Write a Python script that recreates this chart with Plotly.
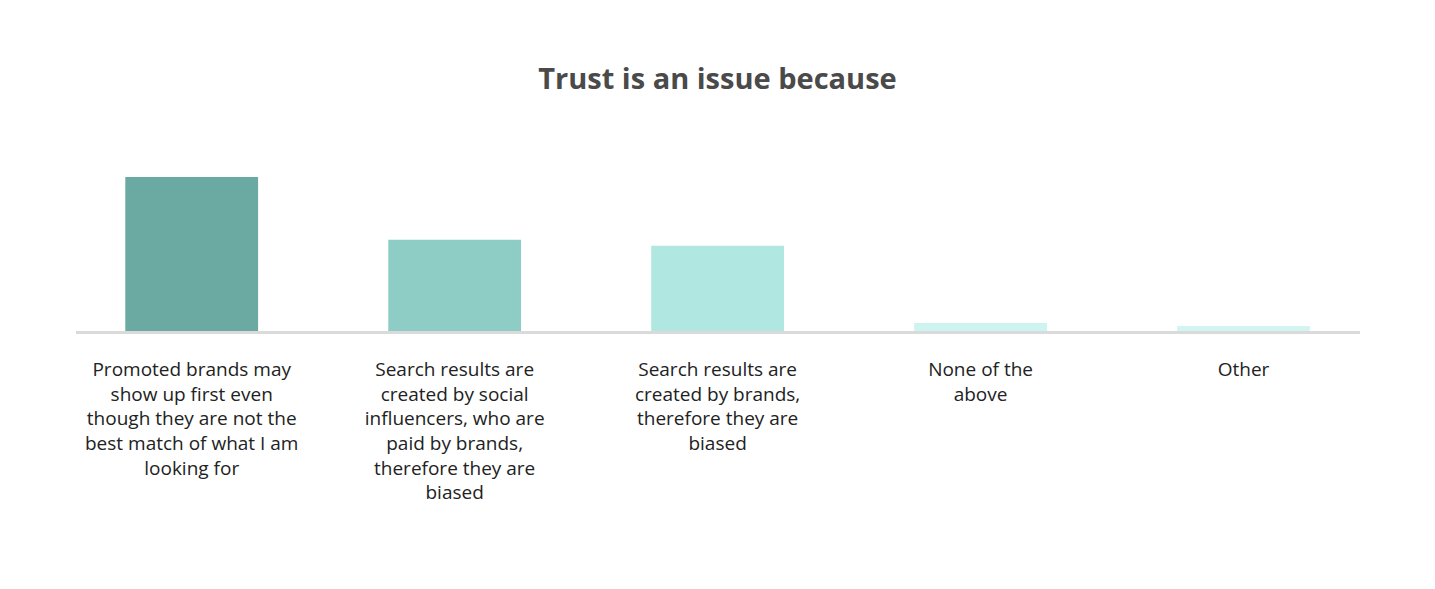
import plotly.graph_objects as go

categories = [
    "Promoted brands may<br>show up first even<br>though they are not the<br>best match of what I am<br>looking for",
    "Search results are<br>created by social<br>influencers, who are<br>paid by brands,<br>therefore they are<br>biased",
    "Search results are<br>created by brands,<br>therefore they are<br>biased",
    "None of the<br>above",
    "Other",
]
values = [52, 30.8, 28.8, 2.7, 1.7]
colors = ["#6aaaa3", "#8ecdc6", "#b0e7e1", "#cdf4f0", "#d3f5f2"]

x = list(range(len(categories)))

fig = go.Figure()
fig.add_trace(go.Bar(
    x=x, y=values, marker=dict(color=colors, line=dict(width=0)),
    width=0.505, hoverinfo="skip",
))

fig.update_layout(
    width=1435, height=589,
    paper_bgcolor="white", plot_bgcolor="white",
    margin=dict(l=68, r=83, t=142, b=266),
    showlegend=False,
    title=dict(text="<b>Trust is an issue because</b>", x=(717.5 - 8) / 1435, xanchor="center",
               y=1 - 71 / 589, yanchor="middle",
               font=dict(family="Open Sans", size=29, color="#4a4a4a")),
    xaxis=dict(
        range=[-0.44, 4.443],
        tickmode="array", tickvals=x, ticktext=categories,
        showgrid=False, zeroline=False,
        showline=True, linecolor="#dadada", linewidth=3,
        ticks="", ticklabelstandoff=19,
        tickfont=dict(family="Open Sans", size=19, color="#222222"),
        fixedrange=True,
    ),
    yaxis=dict(
        range=[0, 61.1], visible=False, showgrid=False, zeroline=False,
        fixedrange=True,
    ),
)

fig.write_html("out.html")
